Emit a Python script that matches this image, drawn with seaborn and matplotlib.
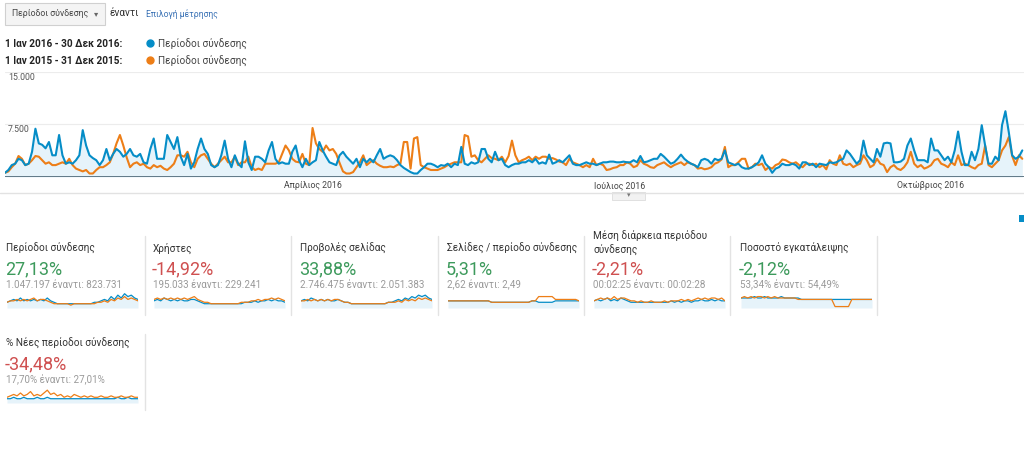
import matplotlib
matplotlib.use("Agg")
import matplotlib.pyplot as plt
from matplotlib.patches import Rectangle
import numpy as np
import pandas as pd
import seaborn as sns

# daily sessions, 1 Jan -> ~28 Oct (visible part), in hundreds
blue_2016 = [
    6, 10, 17, 19, 26, 24, 17, 19, 36, 69, 48, 46, 41, 50, 31, 31, 60, 31, 19, 21,
    19, 24, 31, 67, 45, 31, 27, 24, 17, 24, 40, 24, 33, 40, 36, 29, 33, 40, 31, 29,
    33, 21, 19, 40, 55, 26, 26, 26, 60, 50, 40, 57, 29, 17, 33, 12, 21, 40, 55, 40,
    33, 17, 14, 17, 31, 52, 26, 14, 31, 19, 14, 51, 21, 10, 29,
    29, 26, 21, 38, 50, 26, 19, 21, 19, 19, 36, 45, 24, 14, 26, 17, 21, 24, 50, 38,
    29, 21, 19, 17, 31, 36, 29, 24, 19, 26, 14, 26, 21, 26, 21, 31, 40, 26, 29, 31,
    29, 24, 17, 13, 10, 7, 5, 5, 10, 14, 19, 19, 17, 14, 17, 16, 19, 14, 19, 17,
    43, 19, 17, 21, 19, 21, 40, 40, 26, 21, 36, 24, 26, 17, 14,
    17, 19, 19, 21, 21, 24, 21, 26, 19, 21, 19, 32, 19, 21, 24, 21, 26, 31, 19, 17,
    17, 19, 21, 19, 19, 17, 19, 21, 21, 22, 22, 21, 21, 22, 21, 21, 24, 21, 30, 21,
    22, 24, 26, 26, 33, 29, 24, 19, 21, 26, 32, 26, 22, 19, 17, 14, 24, 26, 24, 19,
    26, 24, 26, 38, 21, 19, 17, 19, 14, 12, 12, 14, 17, 21, 31,
    19, 14, 6, 12, 14, 19, 17, 17, 19, 17, 12, 21, 21, 17, 19, 14, 19, 18, 17, 21,
    20, 21, 24, 26, 38, 33, 26, 19, 24, 52, 31, 26, 21, 40, 29, 48, 49, 48, 21, 21,
    22, 26, 45, 55, 38, 24, 24, 24, 21, 55, 38, 38, 31, 24, 29, 21, 38, 65, 36, 17,
    17, 36, 24, 40, 74, 45, 19, 19, 29, 24, 74, 94, 64, 31, 26, 29, 38,
]
orange_2015 = [
    6, 8, 14, 19, 30, 26, 17, 19, 24, 30, 29, 24, 19, 21, 17, 17, 19, 21, 19, 26,
    17, 12, 10, 8, 10, 5, 5, 10, 14, 14, 17, 21, 33, 48, 60, 45, 28, 14, 19, 21,
    17, 19, 14, 12, 17, 14, 16, 12, 10, 14, 19, 31, 31, 29, 36, 21, 14, 26, 31, 33,
    26, 19, 14, 19, 24, 29, 21, 21, 29, 17, 21, 21, 29, 14, 10,
    12, 10, 19, 19, 19, 19, 21, 33, 45, 38, 26, 22, 21, 33, 19, 17, 70, 48, 40, 36,
    45, 38, 40, 33, 20, 8, 5, 5, 7, 14, 21, 31, 17, 21, 24, 19, 16, 14, 14, 15,
    14, 17, 19, 50, 50, 12, 55, 57, 17, 14, 12, 10, 10, 10, 12, 14, 17, 19, 21, 21,
    21, 60, 58, 29, 31, 24, 21, 26, 31, 27, 26, 24, 29, 21, 30,
    52, 31, 21, 24, 26, 29, 24, 29, 26, 29, 29, 26, 27, 25, 22, 21, 17, 26, 21, 19,
    17, 14, 17, 14, 26, 17, 19, 17, 10, 11, 13, 14, 17, 17, 21, 19, 14, 16, 24, 19,
    17, 14, 13, 17, 19, 21, 17, 14, 17, 19, 21, 17, 21, 19, 17, 12, 13, 11, 12, 14,
    19, 21, 25, 43, 14, 17, 17, 21, 26, 26, 12, 14, 19, 17, 19,
    10, 14, 12, 17, 19, 25, 24, 21, 19, 21, 17, 14, 19, 19, 17, 19, 14, 17, 11, 24,
    19, 17, 31, 19, 17, 19, 14, 17, 19, 31, 24, 14, 17, 26, 19, 17, 7, 14, 17, 12,
    10, 14, 21, 36, 19, 14, 17, 12, 14, 17, 24, 26, 19, 17, 14, 21, 17, 31, 17, 19,
    17, 14, 12, 17, 19, 45, 17, 14, 19, 24, 38, 45, 57, 30, 17, 31, 26,
]
month_ticks = [91, 182, 274]
month_labels = ["Απρίλιος 2016", "Ιούλιος 2016", "Οκτώβριος 2016"]
y_ticks = [7500, 15000]
y_labels = ["7.500", "15.000"]

# scorecards
card_titles = ["Περίοδοι σύνδεσης", "Χρήστες", "Προβολές σελίδας",
               "Σελίδες / περίοδο σύνδεσης", "Μέση διάρκεια περιόδου\nσύνδεσης",
               "Ποσοστό εγκατάλειψης", "% Νέες περίοδοι σύνδεσης"]
card_change = ["27,13%", "-14,92%", "33,88%", "5,31%", "-2,21%", "-2,12%", "-34,48%"]
card_good = [True, False, True, True, False, True, False]
card_values = ["1.047.197 έναντι: 823.731", "195.033 έναντι: 229.241",
               "2.746.475 έναντι: 2.051.383", "2,62 έναντι: 2,49",
               "00:02:25 έναντι: 00:02:28", "53,34% έναντι: 54,49%",
               "17,70% έναντι: 27,01%"]

spark_blue = [
    [4, 5, 6, 5, 7, 5, 6, 5, 6, 5, 6, 5, 7, 5, 4, 3, 3, 3, 3, 3, 3, 3, 3, 3, 3, 3, 4, 4, 5, 6, 5, 8, 6, 9, 7, 10, 8, 9, 7, 6],
    [5, 6, 5, 7, 6, 5, 6, 5, 6, 5, 5, 6, 6, 5, 4, 3, 3, 3, 3, 3, 3, 3, 3, 3, 3, 3, 3, 4, 4, 4, 5, 4, 5, 5, 6, 5, 6, 5, 5, 4],
    [5, 6, 5, 7, 6, 5, 6, 5, 6, 5, 5, 6, 5, 4, 4, 3, 3, 3, 3, 3, 3, 3, 3, 3, 3, 3, 4, 4, 5, 6, 5, 7, 6, 8, 7, 9, 8, 9, 7, 6],
    [5, 5, 5, 5, 5, 5, 5, 5, 5, 5, 5, 5, 5, 4, 4, 4, 4, 4, 4, 4, 4, 4, 4, 4, 4, 5, 5, 4, 4, 4, 4, 4, 5, 5, 5, 5, 5, 5, 5, 5],
    [5, 6, 5, 6, 7, 5, 6, 5, 7, 6, 5, 4, 4, 4, 4, 4, 4, 4, 4, 4, 4, 4, 4, 5, 4, 5, 4, 5, 5, 4, 5, 5, 6, 5, 5, 6, 5, 6, 5, 5],
    [7, 7, 7, 7, 8, 7, 7, 8, 7, 7, 7, 7, 8, 7, 7, 7, 7, 7, 6, 6, 6, 6, 6, 6, 6, 6, 6, 6, 6, 6, 6, 6, 6, 6, 6, 6, 6, 6, 6, 6],
    [3, 3, 4, 3, 3, 4, 3, 3, 3, 4, 3, 3, 4, 3, 3, 3, 3, 3, 3, 3, 3, 3, 3, 3, 3, 3, 3, 3, 3, 3, 3, 3, 3, 4, 3, 3, 4, 3, 3, 3],
]
spark_orange = [
    [4, 5, 5, 6, 5, 6, 5, 6, 7, 5, 6, 6, 5, 4, 3, 3, 3, 3, 3, 2, 3, 3, 3, 3, 3, 3, 3, 4, 4, 5, 4, 6, 5, 7, 6, 8, 6, 7, 6, 5],
    [6, 7, 6, 7, 6, 7, 6, 7, 6, 7, 6, 7, 8, 6, 5, 4, 4, 3, 3, 3, 3, 3, 3, 3, 3, 3, 4, 4, 4, 5, 5, 6, 5, 6, 6, 7, 6, 7, 6, 5],
    [5, 5, 6, 5, 6, 5, 6, 5, 6, 5, 6, 6, 5, 4, 4, 3, 3, 3, 3, 3, 3, 3, 3, 3, 3, 3, 4, 4, 4, 5, 4, 6, 5, 6, 5, 7, 6, 7, 6, 5],
    [5, 5, 5, 5, 5, 5, 5, 5, 5, 5, 5, 5, 5, 4, 4, 4, 4, 4, 4, 4, 4, 4, 4, 4, 4, 5, 5, 8, 8, 8, 8, 8, 6, 6, 6, 6, 6, 6, 6, 5],
    [5, 6, 7, 6, 7, 6, 8, 6, 7, 7, 6, 5, 5, 4, 5, 4, 4, 5, 4, 4, 4, 5, 4, 5, 5, 5, 6, 5, 6, 5, 6, 7, 6, 7, 6, 7, 7, 6, 7, 5],
    [7, 8, 7, 8, 7, 8, 8, 7, 8, 7, 8, 7, 7, 7, 7, 7, 7, 6, 6, 6, 6, 6, 6, 6, 6, 6, 6, 6, 1, 1, 1, 1, 1, 6, 6, 6, 6, 6, 6, 6],
    [4, 5, 6, 5, 7, 5, 6, 8, 5, 6, 5, 7, 9, 6, 7, 5, 6, 4, 5, 4, 6, 5, 4, 5, 4, 5, 4, 4, 5, 4, 4, 5, 4, 4, 5, 4, 4, 5, 4, 4],
]

BLUE = "#058dc7"
ORANGE = "#ed7e17"
FILL = "#e6f3fa"
GREEN = "#3d9a5c"
RED = "#cf5050"

sns.set_theme(style="white")
plt.rcParams["font.family"] = ["Roboto", "DejaVu Sans"]

W, H = 1024, 450
fig = plt.figure(figsize=(W / 100, H / 100), dpi=100)


def box(x, y, w, h):
    # pixel box (top-left origin) -> figure fraction
    return [x / W, 1 - (y + h) / H, w / W, h / H]


# background layer in pixel coordinates
bg = fig.add_axes([0, 0, 1, 1], zorder=-1)
bg.set_xlim(0, W)
bg.set_ylim(H, 0)
bg.axis("off")

# metric picker
bg.add_patch(Rectangle((5, 3), 100, 22, facecolor="#f4f4f4", edgecolor="#d0d0d0", lw=0.8))
bg.text(12, 14, "Περίοδοι σύνδεσης", fontsize=6.3, color="#444", va="center")
bg.text(96, 14, "▾", fontsize=6, color="#666", va="center", ha="center")
bg.text(110, 13, "έναντι", fontsize=7.2, color="#333", va="center")
bg.text(146, 14, "Επιλογή μέτρησης", fontsize=6.2, color="#3a72b5", va="center")

# comparison legend
for yy, rng, col in [(44, "1 Ιαν 2016 - 30 Δεκ 2016:", BLUE), (61, "1 Ιαν 2015 - 31 Δεκ 2015:", ORANGE)]:
    bg.text(5, yy, rng, fontsize=7.2, fontweight="bold", color="#222", va="center")
    bg.plot([150], [yy - 1], "o", ms=5, color=col)
    bg.text(158, yy, "Περίοδοι σύνδεσης", fontsize=7.2, color="#444", va="center")

# y labels of the main chart
for val, lab in zip(y_ticks, y_labels):
    ypix = 177 - val / 15000 * 105
    bg.text(8, ypix + 5, lab, fontsize=6.3, color="#555", va="center")

# line under the chart with the small collapse tab
bg.plot([0, W], [193, 193], color="#e2e2e2", lw=1)
bg.add_patch(Rectangle((612, 192), 33, 8, facecolor="#f2f2f2", edgecolor="#dcdcdc", lw=0.6))
bg.text(628.5, 195.5, "▾", fontsize=5, color="#777", ha="center", va="center")
bg.add_patch(Rectangle((1019, 215), 5, 7, facecolor=BLUE, edgecolor="none"))

# main chart
df = pd.DataFrame({
    "day": np.concatenate([np.arange(len(blue_2016)), np.arange(len(orange_2015))]),
    "sessions": np.concatenate([np.array(blue_2016) * 100, np.array(orange_2015) * 100]),
    "period": ["2016"] * len(blue_2016) + ["2015"] * len(orange_2015),
})
ax = fig.add_axes(box(5, 72, 1019, 105))
ax.patch.set_alpha(0)
ax.fill_between(np.arange(len(blue_2016)), np.array(blue_2016) * 100, color=FILL, lw=0)
for v in y_ticks:
    ax.axhline(v, color="#ececec", lw=0.8, zorder=0)
sns.lineplot(data=df, x="day", y="sessions", hue="period", hue_order=["2015", "2016"],
             palette={"2016": BLUE, "2015": ORANGE}, lw=1.5, legend=False, ax=ax)
ax.axhline(0, color="#56707e", lw=1.3)
ax.set_xlim(0, 301.5)
ax.set_ylim(0, 15000)
ax.set_yticks([])
ax.set_xticks(month_ticks, month_labels)
ax.tick_params(axis="x", length=0, pad=3, labelsize=6.3, labelcolor="#444")
ax.set_xlabel("")
ax.set_ylabel("")
for s in ax.spines.values():
    s.set_visible(False)

# scorecards
card_x = [5, 152, 299, 446, 592, 739, 5]
card_row = [0, 0, 0, 0, 0, 0, 1]
for i in range(7):
    x0 = card_x[i]
    dy = 95 * card_row[i]
    title = card_titles[i]
    if "\n" in title:
        l1, l2 = title.split("\n")
        bg.text(x0 + 1, 236 + dy, l1, fontsize=7.2, color="#333", va="center")
        bg.text(x0 + 1, 250 + dy, l2, fontsize=7.2, color="#333", va="center")
    else:
        bg.text(x0 + 1, 248 + dy, title, fontsize=7.2, color="#333", va="center")
    bg.text(x0, 269 + dy, card_change[i], fontsize=13, color=GREEN if card_good[i] else RED, va="center")
    bg.text(x0 + 1, 285 + dy, card_values[i], fontsize=7.1, color="#9a9a9a", va="center")

    sx = fig.add_axes(box(x0 + 2, 293 + dy, 131, 15))
    sx.patch.set_alpha(0)
    n = np.arange(len(spark_blue[i]))
    sx.fill_between(n, spark_blue[i], color=FILL, lw=0)
    sns.lineplot(x=n, y=spark_blue[i], color=BLUE, lw=0.9, ax=sx)
    sns.lineplot(x=n, y=spark_orange[i], color=ORANGE, lw=0.9, ax=sx)
    sx.set_xlim(0, len(n) - 1)
    sx.set_ylim(0, 10.5)
    sx.axis("off")

# card separators
for xs in [145, 291, 438, 584, 730, 877]:
    bg.plot([xs, xs], [236, 315], color="#e3e3e3", lw=1)
bg.plot([145, 145], [334, 410], color="#e3e3e3", lw=1)

fig.savefig("out.png", dpi=100)
